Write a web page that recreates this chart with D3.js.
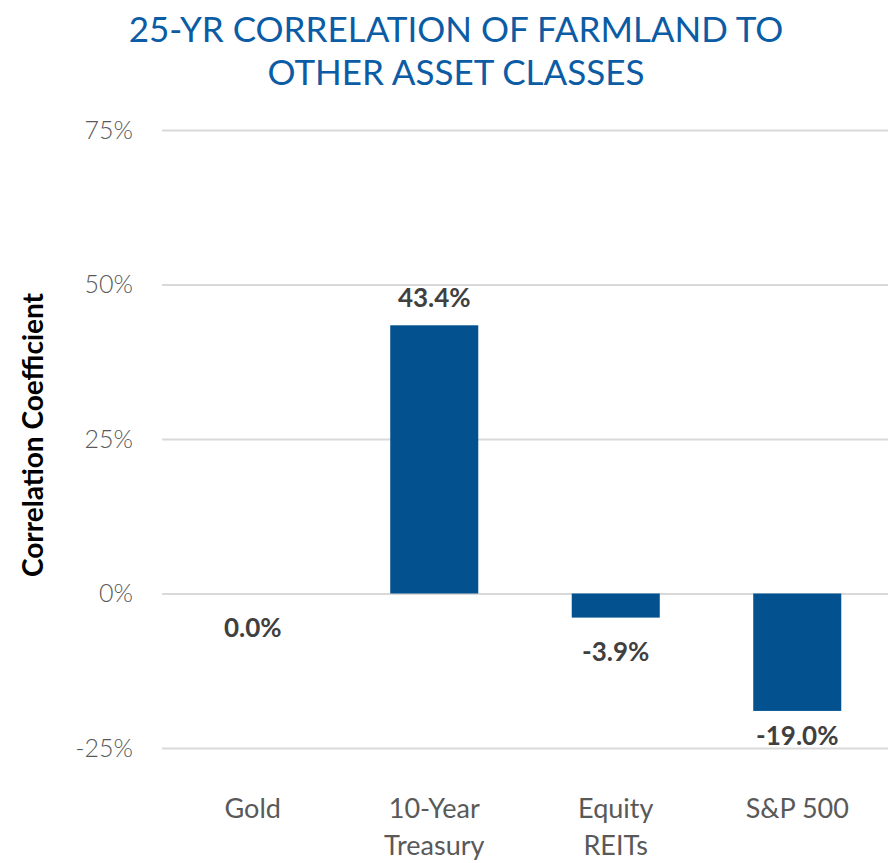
<!DOCTYPE html>
<html>
<head>
<meta charset="utf-8">
<script src="https://cdn.jsdelivr.net/npm/d3@7"></script>
<style>
  body { margin: 0; background: #fff; }
  svg text { font-family: Lato, "Open Sans", sans-serif; }
</style>
</head>
<body>
<svg id="chart" width="888" height="863"></svg>
<script>
const categories = [["Gold"], ["10-Year", "Treasury"], ["Equity", "REITs"], ["S&P 500"]]
const values = [0.0, 43.4, -3.9, -19.0]
const valueLabels = ["0.0%", "43.4%", "-3.9%", "-19.0%"]
const ticks = [-25, 0, 25, 50, 75]
const titleLines = ["25-YR CORRELATION OF FARMLAND TO", "OTHER ASSET CLASSES"]

const svg = d3.select("#chart")
const plotLeft = 162, plotRight = 888, plotTop = 130, plotBottom = 748

const x = d3.scaleBand()
  .domain(d3.range(categories.length))
  .range([plotLeft, plotRight])
  .paddingInner(0.515)
  .paddingOuter(0.2575)

const y = d3.scaleLinear()
  .domain([-25, 75])
  .range([plotBottom, plotTop])

// title
svg.append("text")
  .attr("x", 456)
  .attr("y", 42)
  .attr("text-anchor", "middle")
  .attr("fill", "#0b5ca5")
  .attr("font-size", "35px")
  .selectAll("tspan")
  .data(titleLines)
  .enter().append("tspan")
  .attr("x", 456)
  .attr("dy", (d, i) => i === 0 ? 0 : 43)
  .text(d => d)

// gridlines + tick labels
const yAxis = svg.append("g")
  .attr("transform", `translate(${plotLeft},0)`)
  .call(d3.axisLeft(y).tickValues(ticks).tickFormat(d => d + "%").tickSize(-(plotRight - plotLeft)).tickPadding(29))
yAxis.select(".domain").remove()
yAxis.selectAll(".tick line").attr("stroke", "#d9d9d9").attr("stroke-width", 2)
yAxis.selectAll(".tick text")
  .attr("fill", "#595959")
  .attr("font-size", "25px")
  .attr("font-family", "Lato, sans-serif")
  .attr("font-weight", 300)

// y axis title
svg.append("text")
  .attr("transform", "translate(43,435) rotate(-90)")
  .attr("text-anchor", "middle")
  .attr("font-size", "28px")
  .attr("font-weight", "bold")
  .attr("fill", "#000")
  .text("Correlation Coefficient")

// bars
svg.selectAll(".bar")
  .data(values)
  .enter().append("rect")
  .attr("class", "bar")
  .attr("x", (d, i) => x(i))
  .attr("width", x.bandwidth())
  .attr("y", d => y(Math.max(0, d)))
  .attr("height", d => Math.abs(y(d) - y(0)))
  .attr("fill", "#03528f")

// value labels (kept inside the plot area, like Excel does)
svg.selectAll(".val")
  .data(values)
  .enter().append("text")
  .attr("class", "val")
  .attr("x", (d, i) => x(i) + x.bandwidth() / 2)
  .attr("y", d => d > 0 ? y(d) - 18 : Math.min(y(d) + 43, plotBottom - 3))
  .attr("text-anchor", "middle")
  .attr("font-size", "26px")
  .attr("font-weight", "bold")
  .attr("fill", "#404040")
  .text((d, i) => valueLabels[i])

// category labels
const cat = svg.selectAll(".cat")
  .data(categories)
  .enter().append("text")
  .attr("class", "cat")
  .attr("text-anchor", "middle")
  .attr("y", 818)
  .attr("font-size", "27px")
  .attr("fill", "#595959")
cat.selectAll("tspan")
  .data((d, i) => d.map(t => ({t, i})))
  .enter().append("tspan")
  .attr("x", d => x(d.i) + x.bandwidth() / 2)
  .attr("dy", (d, j) => j === 0 ? 0 : 37)
  .text(d => d.t)
</script>
</body>
</html>
